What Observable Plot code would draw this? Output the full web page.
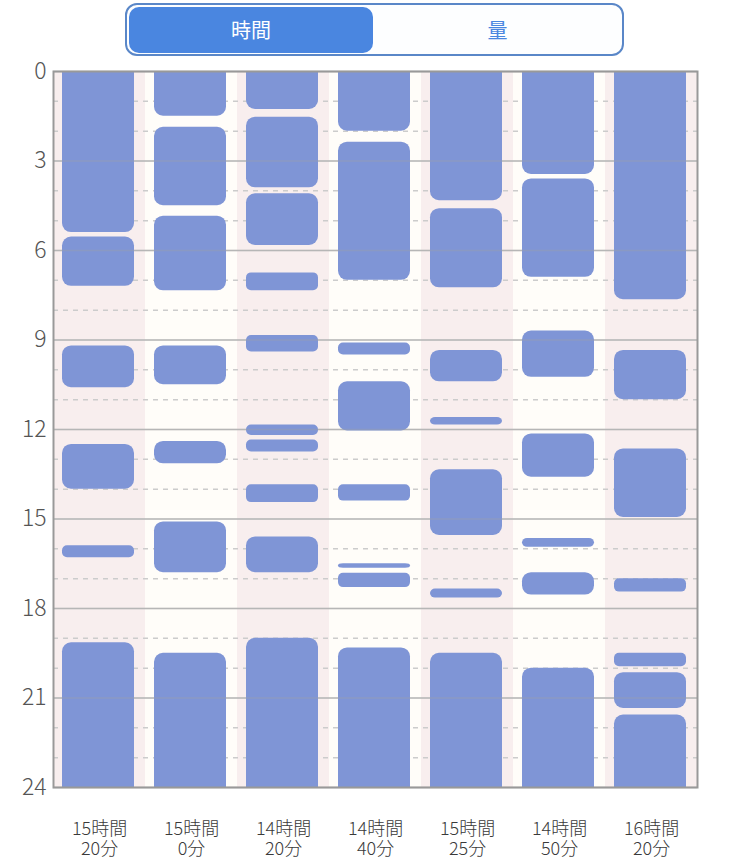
<!DOCTYPE html>
<html><head><meta charset="utf-8">
<script src="https://cdn.jsdelivr.net/npm/d3@7"></script>
<script src="https://cdn.jsdelivr.net/npm/@observablehq/plot@0.6"></script>
<style>
body{margin:0;background:#fff;font-family:"Noto Sans CJK JP","Noto Sans",sans-serif;}
#top{position:relative;height:50px;width:750px;}
#toggle{position:absolute;left:125px;top:3px;width:495px;height:49px;border:2px solid #5a87c8;border-radius:12px;background:#fdfeff;z-index:2;}
#sel{position:absolute;left:2px;top:2px;width:244px;height:46px;background:#4a86e0;border-radius:10px;color:#fff;font-size:20px;line-height:46px;text-align:center;}
#other{position:absolute;left:248px;top:2px;width:245px;height:46px;color:#4a86e0;font-size:20px;line-height:46px;text-align:center;}
#chart svg{display:block;}
</style>
</head><body>
<div id="top"><div id="toggle"><div id="sel">時間</div><div id="other">量</div></div></div>
<div id="chart"></div>
<script>
const dayLabels = ["15時間\n20分","15時間\n0分","14時間\n20分","14時間\n40分","15時間\n25分","14時間\n50分","16時間\n20分"];
const sleepStarts = [
  [0, 5.55, 9.2, 12.5, 15.9, 19.15],
  [0, 1.87, 4.85, 9.2, 12.4, 15.1, 19.5],
  [0, 1.53, 4.1, 6.75, 8.85, 11.85, 12.35, 13.85, 15.6, 19.0],
  [0, 2.37, 9.1, 10.4, 13.85, 16.5, 16.82, 19.32],
  [0, 4.6, 9.35, 11.6, 13.35, 17.35, 19.5],
  [0, 3.6, 8.7, 12.15, 15.65, 16.8, 20.0],
  [0, 9.35, 12.65, 17.0, 19.5, 20.15, 21.57]
];
const sleepEnds = [
  [5.4, 7.2, 10.6, 14.0, 16.3, 24],
  [1.5, 4.5, 7.35, 10.5, 13.15, 16.8, 24],
  [1.27, 3.9, 5.83, 7.35, 9.4, 12.2, 12.75, 14.45, 16.8, 24],
  [2.0, 7.0, 9.5, 12.05, 14.4, 16.65, 17.3, 24],
  [4.33, 7.25, 10.4, 11.85, 15.55, 17.65, 24],
  [3.45, 6.9, 10.25, 13.6, 15.95, 17.55, 24],
  [7.65, 11.0, 14.95, 17.45, 19.95, 21.35, 24]
];
const yTicks = [0, 3, 6, 9, 12, 15, 18, 21, 24];
const minorHours = d3.range(0, 25).filter(h => h % 3 !== 0);

const segments = [];
dayLabels.forEach((day, i) => {
  sleepStarts[i].forEach((s, j) => segments.push({day, start: s, end: sleepEnds[i][j]}));
});
const thick = segments.filter(d => d.end - d.start >= 0.6);
const thin = segments.filter(d => d.end - d.start < 0.6);
const ext = d => d.start === 0 ? -0.6 : d.start;
const extEnd = d => d.end === 24 ? 24.6 : d.end;

const chart = Plot.plot({
  width: 750, height: 814,
  marginTop: 21, marginBottom: 77, marginLeft: 53, marginRight: 53,
  style: {fontFamily: '"Noto Sans CJK JP","Noto Sans",sans-serif', background: "transparent"},
  x: {domain: dayLabels, padding: 0, axis: null},
  y: {domain: [0, 24], reverse: true, axis: null},
  color: {type: "identity"},
  marks: [
    Plot.barY(dayLabels, {x: d => d, y1: 0, y2: 24, fill: (d, i) => i % 2 ? "#fffdf9" : "#f8eeee"}),
    Plot.ruleY(minorHours, {stroke: "#cccccc", strokeWidth: 1.5, strokeDasharray: "5,5"}),
    Plot.ruleY(yTicks, {stroke: "#c2c2c2", strokeWidth: 1.5}),
    Plot.barY(thick, {x: "day", y1: ext, y2: extEnd, fill: "#7f95d6", insetLeft: 9, insetRight: 11, rx: 9, clip: true}),
    Plot.barY(thin, {x: "day", y1: "start", y2: "end", fill: "#7f95d6", insetLeft: 9, insetRight: 11, rx: 5}),
    Plot.ruleY(yTicks.slice(1, -1), {stroke: "#a0a0a0", strokeWidth: 1.5, strokeOpacity: 0.35}),
    Plot.frame({stroke: "#999999", strokeWidth: 2}),
    Plot.axisY(yTicks, {tickSize: 0, tickPadding: 7, fontSize: 23, fontWeight: 300, fill: "#555555", label: null, tickFormat: d => d}),
    Plot.text(dayLabels, {x: d => d, text: d => d.split("\n")[0], frameAnchor: "bottom", dy: 47, fontSize: 18, fontWeight: 300, fill: "#3a3a3a"}),
    Plot.text(dayLabels, {x: d => d, text: d => d.split("\n")[1], frameAnchor: "bottom", dy: 67, fontSize: 18, fontWeight: 300, fill: "#3a3a3a"})
  ]
});
document.getElementById("chart").appendChild(chart);
</script>
</body></html>
